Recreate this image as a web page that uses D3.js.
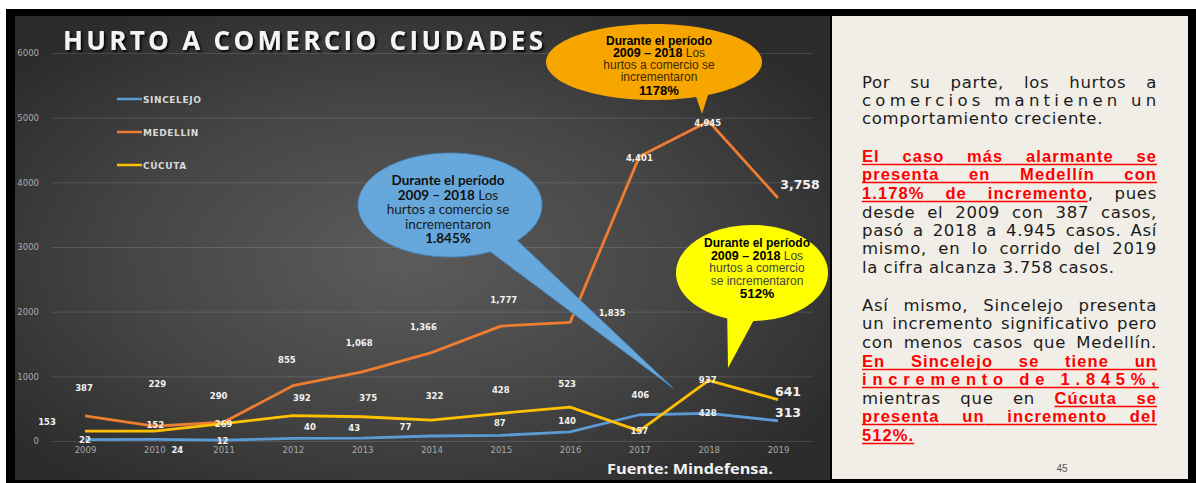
<!DOCTYPE html>
<html>
<head>
<meta charset="utf-8">
<script src="https://cdn.jsdelivr.net/npm/d3@7"></script>
<style>
  body { margin: 0; background: #fff; }
  svg { display: block; }
</style>
</head>
<body>
<div id="chart"></div>
<script>
// ---------------- DATA ----------------
var years = [2009, 2010, 2011, 2012, 2013, 2014, 2015, 2016, 2017, 2018, 2019];
var sincelejo = [22, 24, 12, 40, 43, 77, 87, 140, 406, 428, 313];
var medellin = [387, 229, 290, 855, 1068, 1366, 1777, 1835, 4401, 4945, 3758];
var cucuta = [153, 152, 269, 392, 375, 322, 428, 523, 157, 937, 641];
var yTicks = [0, 1000, 2000, 3000, 4000, 5000, 6000];
var seriesNames = ["SINCELEJO", "MEDELLIN", "CÚCUTA"];

// label nudges (Excel data labels were moved by hand)
var nudges = {
  medellin: [[-1,-28],[3,-42],[-5,-26],[-6,-26],[-3,-29],[-8,-26],[3,-26],[42,-9],[0,2],[-1,2],[22,-13]],
  cucuta: [[-38,-9],[1,-6],[0,0],[9,-18],[6,-19],[3,-24],[0,-23],[-3,-23],[0,0],[-1,0],[10,-8]],
  sincelejo: [[0,0],[23,11],[-1,1],[17,-11],[-8,-10],[-26,-9],[-1,-12],[-3,-11],[1,-20],[-1,0],[10,-8]]
};

var colors = { sincelejo: "#5b9bd5", medellin: "#ed7d31", cucuta: "#ffc000" };

// ---------------- CANVAS ----------------
var svgWidth = 1196, svgHeight = 483;
var svg = d3.select("#chart").append("svg")
  .attr("width", svgWidth)
  .attr("height", svgHeight);

var defs = svg.append("defs");
var grad = defs.append("radialGradient")
  .attr("id", "bg")
  .attr("cx", "48%").attr("cy", "52%").attr("r", "62%");
grad.append("stop").attr("offset", "0%").attr("stop-color", "#5c5c5c");
grad.append("stop").attr("offset", "55%").attr("stop-color", "#454545");
grad.append("stop").attr("offset", "100%").attr("stop-color", "#2c2c2c");

var shadow = defs.append("filter").attr("id", "shadow")
  .attr("x", "-5%").attr("y", "-30%").attr("width", "110%").attr("height", "160%");
shadow.append("feDropShadow")
  .attr("dx", 2).attr("dy", 2).attr("stdDeviation", 1.2)
  .attr("flood-color", "#000").attr("flood-opacity", 0.85);

// frame + panels
svg.append("rect").attr("x", 6).attr("y", 9).attr("width", 1190).attr("height", 474).attr("fill", "#000");
svg.append("rect").attr("x", 15).attr("y", 16).attr("width", 815).attr("height", 464).attr("fill", "url(#bg)");
svg.append("rect").attr("x", 832).attr("y", 16).attr("width", 356).attr("height", 463).attr("fill", "#f1eee7");

// ---------------- SCALES / AXES ----------------
var x = d3.scalePoint().domain(years).range([85, 778]);
var y = d3.scaleLinear().domain([0, 6000]).range([441, 53]);

var chart = svg.append("g");

var yAxis = chart.append("g")
  .attr("transform", "translate(52,0)")
  .call(d3.axisLeft(y).tickValues(yTicks).tickSizeInner(-761).tickSizeOuter(0).tickPadding(13).tickFormat(d3.format("d")));
yAxis.select(".domain").remove();
yAxis.selectAll("line").attr("stroke", "#ffffff").attr("stroke-opacity", 0.13);
yAxis.selectAll("text").attr("fill", "#a8a8a8").style("font", "8.5px 'DejaVu Sans'");

var xAxis = chart.append("g")
  .attr("transform", "translate(0,441)")
  .call(d3.axisBottom(x).tickSize(0).tickPadding(6));
xAxis.select(".domain").remove();
xAxis.selectAll("text").attr("fill", "#a8a8a8").style("font", "8.5px 'DejaVu Sans'");

// title
chart.append("text")
  .attr("x", 63).attr("y", 50)
  .attr("textLength", 480).attr("lengthAdjust", "spacing")
  .attr("fill", "#f4f4f4")
  .attr("filter", "url(#shadow)")
  .style("font", "bold 26px 'Open Sans'")
  .text("HURTO A COMERCIO CIUDADES");

// legend
var legendKeys = ["sincelejo", "medellin", "cucuta"];
legendKeys.forEach(function(k, i) {
  var ly = 99 + i * 33;
  chart.append("line")
    .attr("x1", 117).attr("x2", 142).attr("y1", ly).attr("y2", ly)
    .attr("stroke", colors[k]).attr("stroke-width", 2.5);
  chart.append("text")
    .attr("x", 143).attr("y", ly + 3.5)
    .attr("fill", "#d9d9d9")
    .style("font", "bold 9px 'DejaVu Sans'")
    .style("letter-spacing", "0.6px")
    .text(seriesNames[i]);
});

// ---------------- LINES ----------------
var series = { sincelejo: sincelejo, medellin: medellin, cucuta: cucuta };
var line = d3.line().x(function(d, i) { return x(years[i]); }).y(function(d) { return y(d); });

legendKeys.forEach(function(k) {
  chart.append("path")
    .datum(series[k])
    .attr("d", line)
    .attr("fill", "none")
    .attr("stroke", colors[k])
    .attr("stroke-width", 2.8)
    .attr("stroke-linejoin", "round");
});

// data labels
var fmt = d3.format(",");
legendKeys.forEach(function(k) {
  chart.selectAll(null)
    .data(series[k])
    .enter()
    .append("text")
      .attr("x", function(d, i) { return x(years[i]) + nudges[k][i][0]; })
      .attr("y", function(d, i) { return y(d) + nudges[k][i][1]; })
      .attr("text-anchor", "middle")
      .attr("dominant-baseline", "central")
      .attr("fill", "#f2f2f2")
      .style("font-family", "'DejaVu Sans'")
      .style("font-weight", "bold")
      .style("font-size", function(d, i) { return i === years.length - 1 ? "12.5px" : "8.5px"; })
      .text(function(d) { return fmt(d); });
});

// ---------------- CALLOUTS ----------------
function bubblePath(cx, cy, rx, ry, a0, a1, tip) {
  var rad = Math.PI / 180;
  var pts = [[cx + rx * Math.cos(a0 * rad), cy + ry * Math.sin(a0 * rad)], tip];
  for (var a = a1; a <= a0 + 360; a += 3) {
    pts.push([cx + rx * Math.cos(a * rad), cy + ry * Math.sin(a * rad)]);
  }
  return d3.line()(pts) + "Z";
}

function bubbleText(lines, cx, y0, step, font, col1, col2) {
  var t = chart.append("text").attr("text-anchor", "middle").style("font-family", font);
  lines.forEach(function(ln, i) {
    var row = t.append("tspan").attr("x", cx).attr("y", y0 + i * step + (ln.dy || 0));
    ln.parts.forEach(function(p) {
      row.append("tspan")
        .style("font-weight", p.b ? "bold" : "normal")
        .style("font-size", p.s + "px")
        .attr("fill", p.b ? col1 : col2)
        .text(p.t);
    });
  });
}

// blue - Sincelejo
chart.append("path")
  .attr("d", bubblePath(450, 205, 92, 52, 43, 64, [673, 388]))
  .attr("fill", "#66a8dc").attr("stroke", "#4a86bb").attr("stroke-width", 1);
bubbleText([
  { parts: [{t: "Durante el período", b: true, s: 13.5}] },
  { parts: [{t: "2009 – 2018", b: true, s: 13.5}, {t: " Los", b: false, s: 13.5}] },
  { parts: [{t: "hurtos a comercio se", b: false, s: 13.5}] },
  { parts: [{t: "incrementaron", b: false, s: 13.5}] },
  { parts: [{t: "1.845%", b: true, s: 13.5}] }
], 448, 185, 14.6, "Lato", "#111", "#1a1a1a");

// orange - Medellin
chart.append("path")
  .attr("d", bubblePath(654, 62, 108, 38, 60, 67, [702, 114]))
  .attr("fill", "#f7a600");
bubbleText([
  { parts: [{t: "Durante el período", b: true, s: 12}] },
  { parts: [{t: "2009 – 2018", b: true, s: 12.5}, {t: " Los", b: false, s: 12}] },
  { parts: [{t: "hurtos a comercio se", b: false, s: 12}] },
  { parts: [{t: "incrementaron", b: false, s: 12}] },
  { parts: [{t: "1178%", b: true, s: 13}], dy: 1.5 }
], 659, 45, 12, "'Liberation Sans'", "#000", "#3b2a00");

// yellow - Cucuta
chart.append("path")
  .attr("d", bubblePath(752, 273, 76, 48, 89, 109, [728, 368]))
  .attr("fill", "#ffff00");
bubbleText([
  { parts: [{t: "Durante el período", b: true, s: 12}] },
  { parts: [{t: "2009 – 2018", b: true, s: 12.5}, {t: " Los", b: false, s: 12}] },
  { parts: [{t: "hurtos a comercio", b: false, s: 12}] },
  { parts: [{t: "se incrementaron", b: false, s: 12}] },
  { parts: [{t: "512%", b: true, s: 13.5}], dy: 1 }
], 757, 247, 12.6, "'Liberation Sans'", "#000", "#444");

// source
chart.append("text")
  .attr("x", 607).attr("y", 474)
  .attr("textLength", 166).attr("lengthAdjust", "spacingAndGlyphs")
  .attr("fill", "#f2f2f2")
  .style("font", "bold 14px 'Open Sans'")
  .text("Fuente: Mindefensa.");

// ---------------- TEXT PANEL ----------------
var panel = svg.append("g");
var left = 862, width = 295;
var styles = {
  n: { fill: "#1b1b1b", weight: "normal", family: "'DejaVu Sans'", ls: "0.7px" },
  r: { fill: "#ff0000", weight: "bold", family: "'Liberation Sans'", ls: "1.1px" }
};
var panelLines = [
  { y: 82, segs: [["Por su parte, los hurtos a", "n"]], j: "word" },
  { y: 100, segs: [["comercios mantienen un", "n"]], j: "char" },
  { y: 118, segs: [["comportamiento creciente.", "n"]], j: "none" },
  { y: 156, segs: [["El caso más alarmante se", "r"]], j: "word" },
  { y: 174, segs: [["presenta en Medellín con", "r"]], j: "word" },
  { y: 193, segs: [["1.178% de incremento", "r"], [", pues", "n"]], j: "word" },
  { y: 212, segs: [["desde el 2009 con 387 casos,", "n"]], j: "word" },
  { y: 230, segs: [["pasó a 2018 a 4.945 casos. Así", "n"]], j: "word" },
  { y: 248, segs: [["mismo, en lo corrido del 2019", "n"]], j: "word" },
  { y: 267, segs: [["la cifra alcanza 3.758 casos.", "n"]], j: "none" },
  { y: 305, segs: [["Así mismo, Sincelejo presenta", "n"]], j: "word" },
  { y: 323, segs: [["un incremento significativo pero", "n"]], j: "word" },
  { y: 342, segs: [["con menos casos que Medellín.", "n"]], j: "word" },
  { y: 361, segs: [["En Sincelejo se tiene un", "r"]], j: "word" },
  { y: 379, segs: [["incremento de 1.845%,", "r"]], j: "char" },
  { y: 398, segs: [["mientras que en ", "n"], ["Cúcuta se", "r"]], j: "word" },
  { y: 416, segs: [["presenta un incremento del", "r"]], j: "word" },
  { y: 435, segs: [["512%.", "r"]], j: "none" }
];

function styled(sel, st) {
  return sel.attr("fill", styles[st].fill)
    .style("font-family", styles[st].family)
    .style("font-size", "16.5px")
    .style("font-weight", styles[st].weight)
    .style("letter-spacing", styles[st].ls);
}

function underline(x1, x2, yb) {
  panel.append("line")
    .attr("x1", x1).attr("x2", x2).attr("y1", yb + 2.5).attr("y2", yb + 2.5)
    .attr("stroke", "#ff0000").attr("stroke-width", 1.4);
}

panelLines.forEach(function(ln) {
  var base = ln.y + 6;
  if (ln.j === "char") {
    var st = ln.segs[0][1];
    styled(panel.append("text"), st)
      .attr("x", left).attr("y", base)
      .attr("textLength", width).attr("lengthAdjust", "spacing")
      .text(ln.segs[0][0]);
    if (st === "r") underline(left, left + width + 2, base);
    return;
  }
  // split into words made of styled parts
  var words = [[]];
  ln.segs.forEach(function(seg) {
    seg[0].split(" ").forEach(function(part, i) {
      if (i > 0) words.push([]);
      if (part.length) words[words.length - 1].push({ t: part, st: seg[1] });
    });
  });
  words = words.filter(function(w) { return w.length; });
  var nodes = words.map(function(w) {
    return w.map(function(p) {
      var el = styled(panel.append("text"), p.st).attr("y", base).text(p.t);
      return { el: el, w: el.node().getComputedTextLength(), st: p.st };
    });
  });
  var total = d3.sum(nodes, function(w) { return d3.sum(w, function(p) { return p.w; }); });
  var gap = ln.j === "word" ? Math.max(3, (width - total) / (words.length - 1)) : 5.5;
  var cur = left, prevRed = null;
  nodes.forEach(function(w) {
    w.forEach(function(p, pi) {
      p.el.attr("x", cur);
      if (p.st === "r") {
        var start = (pi === 0 && prevRed !== null) ? prevRed : cur;
        underline(start, cur + p.w, base);
      }
      cur += p.w;
      prevRed = null;
    });
    var last = w[w.length - 1];
    if (last.st === "r") prevRed = cur;
    cur += gap;
  });
});

panel.append("text")
  .attr("x", 1062).attr("y", 472)
  .attr("text-anchor", "middle")
  .attr("fill", "#555")
  .style("font", "10px 'Liberation Sans'")
  .text("45");
</script>
</body>
</html>
